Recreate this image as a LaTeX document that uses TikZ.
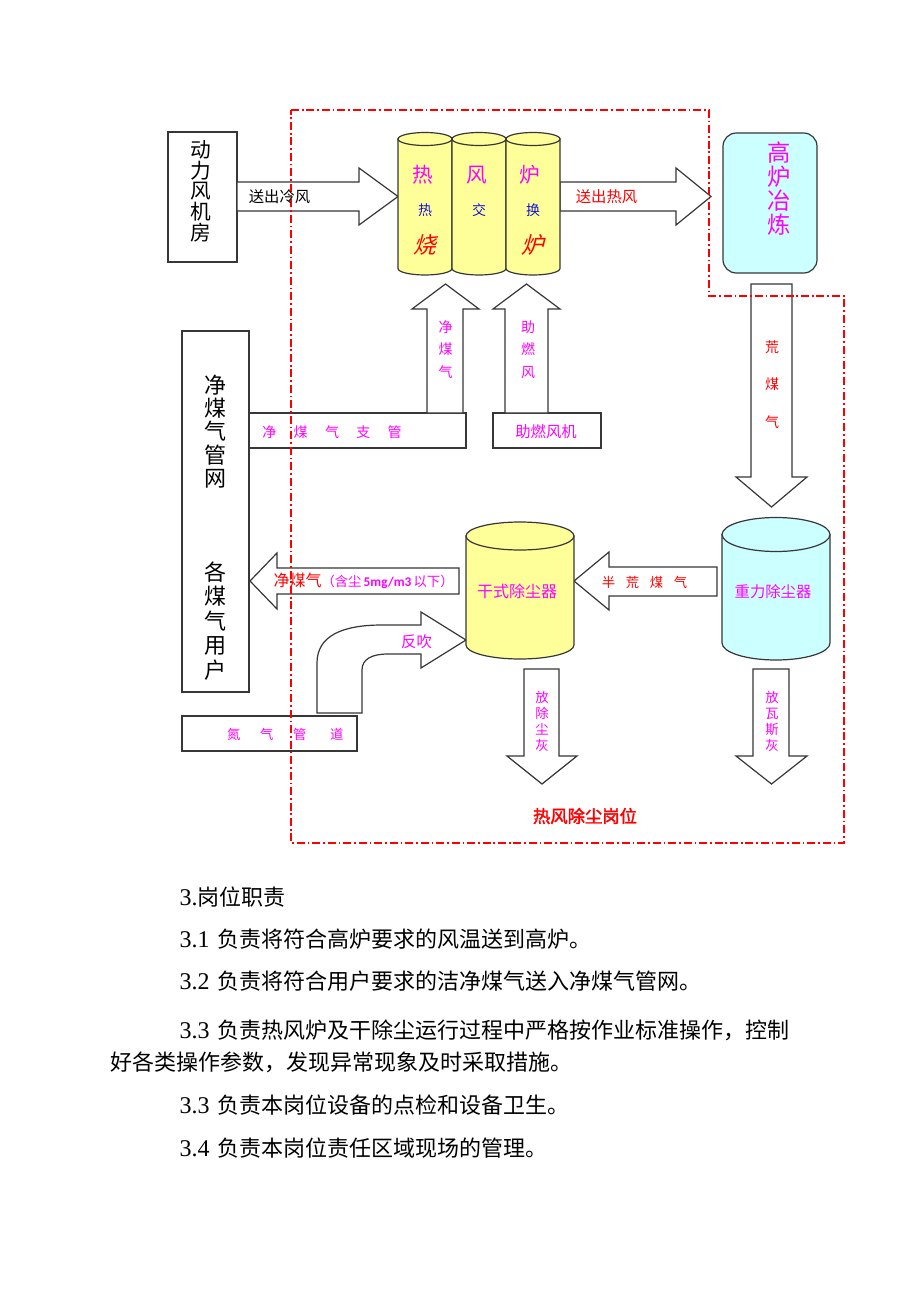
\documentclass[tikz,border=0pt]{standalone}
\usepackage{fontspec}
\setmainfont{Liberation Serif}
\newfontfamily\cjk{Noto Sans CJK SC}
\newfontfamily\cjkslant{Noto Sans CJK SC}[FakeSlant=0.25]
\newfontfamily\cjkbold{Noto Sans CJK SC}[FakeBold=2]
\newfontfamily\carlito{Carlito}

\definecolor{lightyellow}{RGB}{255,255,153}
\definecolor{lightcyan}{RGB}{204,255,255}
\definecolor{mag}{RGB}{255,0,255}
\definecolor{edge}{RGB}{55,55,55}
\definecolor{bluetxt}{RGB}{20,20,210}

\tikzset{every picture/.style={line width=0.75pt}}
\tikzset{
  boxline/.style={draw=edge, fill=white, line width=0.9pt},
  barrow/.style={draw=edge, fill=white, line width=0.9pt, line join=miter},
  cylline/.style={draw=edge, line width=0.9pt},
  postline/.style={draw=red, line width=1.1pt, dash pattern=on 6pt off 2.2pt on 1.2pt off 2.2pt},
  lbl/.style={inner sep=0pt, font=\cjk\fontsize{11.5}{13}\selectfont},
  vlbl/.style={inner sep=0pt, align=center},
  para/.style={inner sep=0pt, anchor=west, font=\cjk\fontsize{16.5}{18}\selectfont},
}

\begin{document}
\begin{tikzpicture}[x=0.75pt,y=0.75pt,yscale=-1,xscale=1]
            \useasboundingbox (0,0) rectangle (920,1302);
            \fill[white] (0,0) rectangle (920,1302);

            %Shape: Rectangle fan house
            \draw[boxline] (168,132) rectangle (237,262);
            %Shape: Rectangle gas network
            \draw[boxline] (182,331) rectangle (249,692);
            %Shape: Rectangle branch pipe
            \draw[boxline] (249,413) rectangle (466,448);
            %Shape: Rectangle blower
            \draw[boxline] (493,413) rectangle (601,448);
            %Shape: Rectangle nitrogen pipe
            \draw[boxline] (182,716) rectangle (357,751);
            %Shape: Rounded Rect blast furnace
            \draw[boxline, fill=lightcyan, rounded corners=10pt] (723,133) rectangle (817,273);

            %Shape: Right Arrow cold blast
            \draw[barrow] (237,182) -- (359,182) -- (359,168) -- (398,196.5) -- (359,225) -- (359,211) -- (237,211) -- cycle;
            %Shape: Right Arrow hot blast
            \draw[barrow] (560,182) -- (676,182) -- (676,168) -- (711,196.5) -- (676,225) -- (676,211) -- (560,211) -- cycle;
            %Shape: Down Arrow raw gas
            \draw[barrow] (751,284) -- (792,284) -- (792,477) -- (807,477) -- (771.5,507) -- (736,477) -- (751,477) -- cycle;
            %Shape: Up Arrow clean gas
            \draw[barrow] (427,413) -- (427,309) -- (412,309) -- (445.5,284) -- (479,309) -- (463,309) -- (463,413) -- cycle;
            %Shape: Up Arrow combustion air
            \draw[barrow] (505,413) -- (505,309) -- (493,309) -- (526.5,284) -- (560,309) -- (548,309) -- (548,413) -- cycle;
            %Shape: Left Arrow clean gas out
            \draw[barrow] (459,568) -- (277,568) -- (277,553) -- (250,581) -- (277,609) -- (277,594) -- (459,594) -- cycle;
            %Shape: Left Arrow semi raw gas
            \draw[barrow] (717,567) -- (609,567) -- (609,552) -- (574,581) -- (609,610) -- (609,596) -- (717,596) -- cycle;
            %Shape: Bent Arrow back blow
            \draw[barrow] (317,713) -- (317,663) .. controls (317,636) and (342,625) .. (382,625) -- (421,625) -- (421,612) -- (466,640) -- (421,668) -- (421,654) -- (388,654) .. controls (372,654) and (362,659) .. (362,670) -- (362,713) -- cycle;
            %Shape: Down Arrow dust out
            \draw[barrow] (524,669) -- (559,669) -- (559,756) -- (577,756) -- (542,784) -- (507,756) -- (524,756) -- cycle;
            %Shape: Down Arrow gas ash out
            \draw[barrow] (753,669) -- (789,669) -- (789,756) -- (807,756) -- (771.5,784) -- (736,756) -- (753,756) -- cycle;

            %Shape: Can stove 1
            \draw[cylline, fill=lightyellow] (398,139) -- (398,268.5) arc[start angle=180, end angle=0, x radius=27, y radius=6.5] -- (452,139) -- cycle;
            \draw[cylline, fill=lightyellow] (425,139) ellipse [x radius=27, y radius=6.5];
            %Shape: Can stove 2
            \draw[cylline, fill=lightyellow] (452,139) -- (452,268.5) arc[start angle=180, end angle=0, x radius=27, y radius=6.5] -- (506,139) -- cycle;
            \draw[cylline, fill=lightyellow] (479,139) ellipse [x radius=27, y radius=6.5];
            %Shape: Can stove 3
            \draw[cylline, fill=lightyellow] (506,139) -- (506,268.5) arc[start angle=180, end angle=0, x radius=27, y radius=6.5] -- (560,139) -- cycle;
            \draw[cylline, fill=lightyellow] (533,139) ellipse [x radius=27, y radius=6.5];
            %Shape: Can dry catcher
            \draw[cylline, fill=lightyellow] (466,536) -- (466,645) arc[start angle=180, end angle=0, x radius=54, y radius=14] -- (574,536) -- cycle;
            \draw[cylline, fill=lightyellow] (520,536) ellipse [x radius=54, y radius=14];
            %Shape: Can gravity catcher
            \draw[cylline, fill=lightcyan] (722,534.5) -- (722,643) arc[start angle=180, end angle=0, x radius=54, y radius=17] -- (830,534.5) -- cycle;
            \draw[cylline, fill=lightcyan] (776,534.5) ellipse [x radius=54, y radius=17];

            %Shape: Dash-dot post border
            \draw[postline] (291,110) -- (709,110) -- (709,296) -- (844,296) -- (844,843) -- (291,843) -- cycle;

            % Text Node
            \node[vlbl, font=\cjk\fontsize{15.5}{15.5}\selectfont] (fantxt) at (201,191) {动\\力\\风\\机\\房};
            % Text Node
            \node[lbl] (coldtxt) at (279.5,197) {送出冷风};
            % Text Node
            \node[lbl, text=red] (hottxt) at (606.5,197) {送出热风};
            % Text Node
            \node[vlbl, text=mag, font=\cjk\fontsize{17.5}{18}\selectfont] (bftxt) at (779,189) {高\\炉\\冶\\炼};
            % Text Node
            \node[inner sep=0pt, text=mag, font=\cjk\fontsize{15.5}{16}\selectfont] (st1a) at (423,175) {热};
            \node[inner sep=0pt, text=mag, font=\cjk\fontsize{15.5}{16}\selectfont] (st2a) at (477,175) {风};
            \node[inner sep=0pt, text=mag, font=\cjk\fontsize{15.5}{16}\selectfont] (st3a) at (530,175) {炉};
            % Text Node
            \node[inner sep=0pt, text=bluetxt, font=\cjk\fontsize{10.5}{11}\selectfont] (st1b) at (425,210) {热};
            \node[inner sep=0pt, text=bluetxt, font=\cjk\fontsize{10.5}{11}\selectfont] (st2b) at (479,210) {交};
            \node[inner sep=0pt, text=bluetxt, font=\cjk\fontsize{10.5}{11}\selectfont] (st3b) at (533,210) {换};
            % Text Node
            \node[inner sep=0pt, text=red, font=\cjkslant\fontsize{17}{17}\selectfont] (st1c) at (425,245) {烧};
            \node[inner sep=0pt, text=red, font=\cjkslant\fontsize{17}{17}\selectfont] (st3c) at (533,245) {炉};
            % Text Node
            \node[vlbl, text=red, font=\cjk\fontsize{10.5}{28}\selectfont] (rawtxt) at (772,384.5) {荒\\煤\\气};
            % Text Node
            \node[vlbl, text=mag, font=\cjk\fontsize{10.5}{17}\selectfont] (gasup) at (445.5,349.5) {净\\煤\\气};
            % Text Node
            \node[vlbl, text=mag, font=\cjk\fontsize{10.5}{17}\selectfont] (airup) at (528,349.5) {助\\燃\\风};
            % Text Node
            \node[vlbl, font=\cjk\fontsize{16.5}{17.5}\selectfont] (nettxt) at (215.5,431.5) {净\\煤\\气\\管\\网};
            % Text Node
            \node[vlbl, font=\cjk\fontsize{16.5}{18.4}\selectfont] (usertxt) at (215.5,621) {各\\煤\\气\\用\\户};
            % Text Node
            \node[lbl, text=mag, font=\cjk\fontsize{10.5}{12}\selectfont] (branchtxt) at (332,432) {净\hspace{13pt}煤\hspace{13pt}气\hspace{13pt}支\hspace{13pt}管};
            % Text Node
            \node[lbl, text=mag] (blowtxt) at (546,432) {助燃风机};
            % Text Node
            \node[lbl, anchor=west, text=red, font=\cjk\fontsize{12}{13}\selectfont] (cleantxt) at (273,581) {净煤气{\color{mag}\fontsize{10}{11}\selectfont （含尘\,{\carlito\bfseries 5mg/m3}\,以下）}};
            % Text Node
            \node[lbl, text=mag, font=\cjk\fontsize{12}{13}\selectfont] (drytxt) at (517,591) {干式除尘器};
            % Text Node
            \node[lbl, text=mag] (gravtxt) at (773,592) {重力除尘器};
            % Text Node
            \node[lbl, text=red, font=\cjk\fontsize{10}{11}\selectfont] (semitxt) at (644.5,582) {半\hspace{8pt}荒\hspace{8pt}煤\hspace{8pt}气};
            % Text Node
            \node[lbl, text=mag, font=\cjk\fontsize{11.5}{12}\selectfont] (blowback) at (416.5,642) {反吹};
            % Text Node
            \node[lbl, anchor=west, text=mag, font=\cjk\fontsize{10}{11}\selectfont] (n2txt) at (226.5,734.5) {氮\hspace{14.8pt}气\hspace{14.8pt}管\hspace{17.8pt}道};
            % Text Node
            \node[vlbl, text=mag, font=\cjk\fontsize{10}{11.8}\selectfont] (ash1) at (542,721.5) {放\\除\\尘\\灰};
            % Text Node
            \node[vlbl, text=mag, font=\cjk\fontsize{10}{11.8}\selectfont] (ash2) at (772,721.5) {放\\瓦\\斯\\灰};
            % Text Node
            \node[inner sep=0pt, text=red, font=\cjkbold\fontsize{13}{14}\selectfont] (posttxt) at (585,816) {热风除尘岗位};

            % Text Node
            \node[para] (p0) at (179,897) {{\rmfamily\fontsize{18}{18}\selectfont 3.}岗位职责};
            % Text Node
            \node[para] (p1) at (179,939) {{\rmfamily\fontsize{18}{18}\selectfont 3.1}\hspace{6pt}负责将符合高炉要求的风温送到高炉。};
            % Text Node
            \node[para] (p2) at (179,981) {{\rmfamily\fontsize{18}{18}\selectfont 3.2}\hspace{6pt}负责将符合用户要求的洁净煤气送入净煤气管网。};
            % Text Node
            \node[para] (p3) at (179,1030) {{\rmfamily\fontsize{18}{18}\selectfont 3.3}\hspace{6pt}负责热风炉及干除尘运行过程中严格按作业标准操作，控制};
            % Text Node
            \node[para] (p3b) at (110,1062) {好各类操作参数，发现异常现象及时采取措施。};
            % Text Node
            \node[para] (p4) at (179,1105) {{\rmfamily\fontsize{18}{18}\selectfont 3.3}\hspace{6pt}负责本岗位设备的点检和设备卫生。};
            % Text Node
            \node[para] (p5) at (179,1148) {{\rmfamily\fontsize{18}{18}\selectfont 3.4}\hspace{6pt}负责本岗位责任区域现场的管理。};

        \end{tikzpicture}
\end{document}
